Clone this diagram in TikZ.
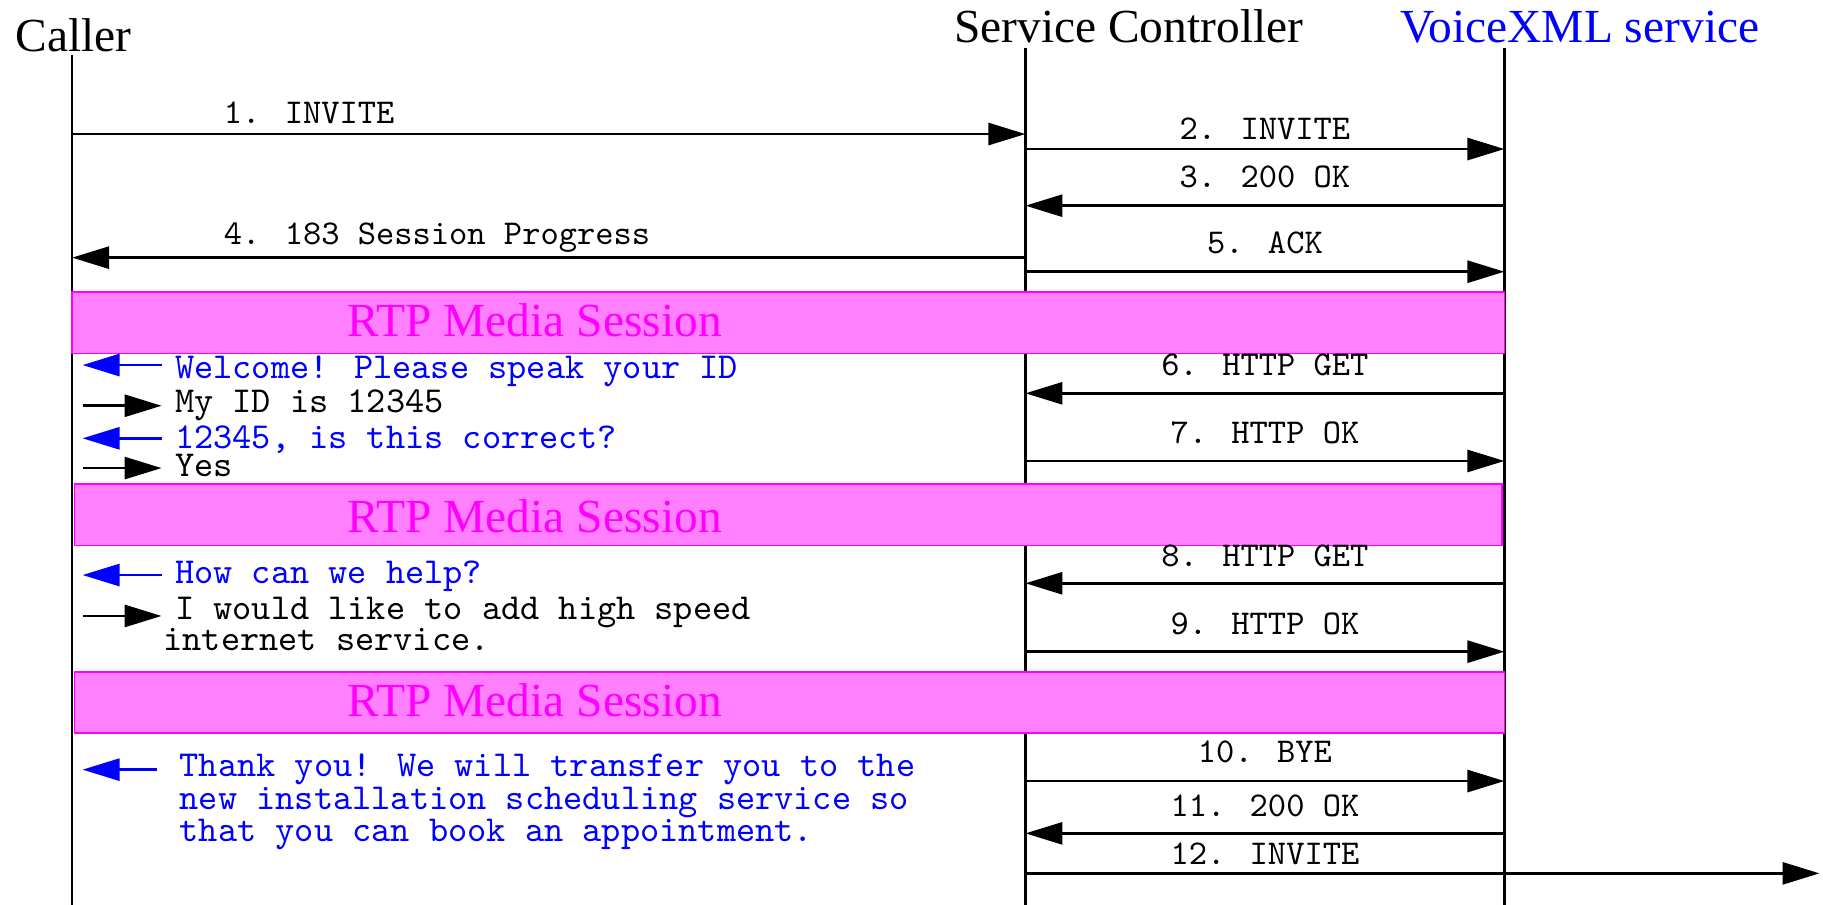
\documentclass[tikz,border=0pt]{standalone}
\usepackage{fontspec}
\setmainfont{Liberation Serif}
\usetikzlibrary{arrows.meta}

\definecolor{rtpfill}{HTML}{FF80FF}
\definecolor{rtpline}{HTML}{FF00FF}
\definecolor{vxblue}{HTML}{0000FF}

\begin{document}
\begin{tikzpicture}[
    x=0.011626cm, y=-0.011626cm,
    head/.style={font=\fontsize{13.5}{16}\selectfont, inner sep=0pt, anchor=base west},
    life/.style={line width=0.7pt, draw=black},
    msg/.style={-{Triangle[length=3.7mm, width=2.2mm]}, line width=0.8pt},
    lbl/.style={font=\fontsize{9.9}{10}\selectfont\ttfamily, inner sep=0pt, anchor=base},
    rtp/.style={draw=rtpline, fill=rtpfill, line width=0.5pt},
    rtptext/.style={font=\fontsize{13.5}{16}\selectfont, text=rtpline, inner sep=0pt, anchor=base},
    prompt/.style={font=\fontsize{10.4}{8.8}\selectfont\ttfamily, inner sep=0pt, anchor=base west, align=left},
    said/.style={{Triangle[length=3.7mm, width=2.2mm]}-, line width=0.8pt, draw=vxblue},
    reply/.style={-{Triangle[length=3.7mm, width=2.2mm]}, line width=0.8pt}
]
\useasboundingbox (0,0) rectangle (1568,778);

% lifelines
\coordinate (caller) at (62,0);
\coordinate (sc) at (882,0);
\coordinate (vx) at (1294,0);
\coordinate (out) at (1565,0);
\coordinate (cx) at (71,0);
\coordinate (bot) at (0,778);
\node[head] (callerhead) at (13,44.5) {Caller};
\node[head] (schead) at (820,36.7) {Service Controller};
\node[head, text=vxblue] (vxhead) at (1204,36.7) {VoiceXML service};
\coordinate (callertop) at (62,47);
\coordinate (sctop) at (882,41.6);
\coordinate (vxtop) at (1294,41.6);
\foreach \a in {caller, sc, vx}{\draw[life] (\a top) -- (\a |- bot);}

% media sessions
\foreach \n/\t/\b/\l/\r/\ty in {1/251/304/62/1294/289.6, 2/416.3/469.3/64/1292/457.6, 3/577.7/630.6/64/1294/616.4}{
  \path[rtp] (\l,\t) rectangle (\r,\b);
  \node[rtptext] (rtp\n) at (460,\ty) {RTP Media Session};
}

% SIP / HTTP messages
\coordinate (m1) at (0,115.3);
\draw[msg] (m1 -| caller) -- (m1 -| sc);
\node[lbl, anchor=base west] (l1) at (192,106) {1. INVITE};
\coordinate (m4) at (0,221.6);
\draw[msg] (m4 -| sc) -- (m4 -| caller);
\node[lbl, anchor=base west] (l4) at (192,210.7) {4. 183 Session Progress};
\foreach \n/\y/\ly/\a/\b/\t in {
  2/128.2/120.4/sc/vx/{2. INVITE},
  3/176.9/161.4/vx/sc/{3. 200 OK},
  5/233.7/217.9/sc/vx/{5. ACK},
  6/338.3/323.1/vx/sc/{6. HTTP GET},
  7/396.5/381.3/sc/vx/{7. HTTP OK},
  8/501.7/487.4/vx/sc/{8. HTTP GET},
  9/560.5/545.6/sc/vx/{9. HTTP OK},
  10/671.8/656/sc/vx/{10. BYE},
  11/716.8/702.4/vx/sc/{11. 200 OK},
  12/751.2/743.2/sc/out/{12. INVITE}}{
  \coordinate (m\n) at (0,\y);
  \draw[msg] (m\n -| \a) -- (m\n -| \b);
  \node[lbl] (l\n) at (1088,\ly) {\t};
}

% dialogue with the caller
\foreach \n/\y/\ty/\s/\c/\t in {
  1/314/325.4/said/vxblue/{Welcome! Please speak your ID},
  2/349/355/reply/black/{My ID is 12345},
  3/377/386/said/vxblue/{12345, is this correct?},
  4/402.6/410/reply/black/{Yes},
  5/494.6/501.5/said/vxblue/{How can we help?}}{
  \coordinate (p\n) at (139,\y);
  \draw[\s] (p\n -| cx) -- (p\n);
  \node[prompt, text=\c] (t\n) at (150,\ty) {\t};
}
\coordinate (p6) at (139,529.8);
\draw[reply] (p6 -| cx) -- (p6);
\node[prompt] (t6) at (140,559.6) {\hspace*{0.116cm}I would like to add high speed\\internet service.};
\coordinate (p7) at (135,662);
\draw[said] (p7 -| cx) -- (p7);
\node[prompt, text=vxblue, font=\fontsize{10.4}{9.3}\selectfont\ttfamily] (t7) at (154,724)
  {Thank you! We will transfer you to the\\new installation scheduling service so\\that you can book an appointment.};
\end{tikzpicture}
\end{document}
